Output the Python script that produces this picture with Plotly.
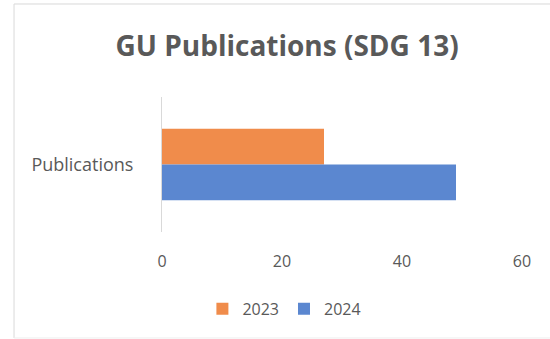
import plotly.graph_objects as go

categories = ["Publications"]
series_names = ["2023", "2024"]
values_2023 = [27]
values_2024 = [49]
x_ticks = [0, 20, 40, 60]

colors = {"2023": "#F08C4B", "2024": "#5B87D0"}

fig = go.Figure()
for name, vals in zip(series_names, [values_2023, values_2024]):
    fig.add_trace(go.Bar(
        y=categories, x=vals, name=name, orientation="h",
        marker=dict(color=colors[name], line=dict(width=0)),
    ))

border = dict(color="#D9D9D9", width=1)
fig.update_layout(
    width=550, height=339,
    margin=dict(l=162, r=28, t=97, b=107, autoexpand=False),
    paper_bgcolor="white", plot_bgcolor="white",
    barmode="group", bargap=0.47, bargroupgap=0,
    font=dict(family="Open Sans", color="#595959", size=16),
    title=dict(text="<b>GU Publications (SDG 13)</b>", x=0.522, xanchor="center",
               y=0.864, yanchor="middle", font=dict(size=28, color="#595959")),
    showlegend=True,
    legend=dict(orientation="h", x=0.34, xanchor="center", y=-0.57, yanchor="middle",
                font=dict(size=16), traceorder="normal", itemwidth=30),
    xaxis=dict(range=[0, 60], tickvals=x_ticks, showgrid=False, zeroline=False,
               showline=False, ticks="", ticklabelstandoff=18, automargin=False),
    yaxis=dict(autorange="reversed", showline=True, linecolor="#D9D9D9", linewidth=1,
               ticks="", ticklabelstandoff=24, automargin=False,
               tickfont=dict(size=18)),
    shapes=[
        dict(type="line", xref="paper", yref="paper", x0=-0.411, x1=1.1,
             y0=1.689, y1=1.689, line=border, layer="below"),
        dict(type="line", xref="paper", yref="paper", x0=-0.411, x1=-0.411,
             y0=-0.785, y1=1.689, line=border, layer="below"),
        dict(type="line", xref="paper", yref="paper", x0=-0.411, x1=1.1,
             y0=-0.785, y1=-0.785, line=dict(color="#EFEFEF", width=1), layer="below"),
    ],
)

fig.write_html("out.html", config={"displayModeBar": False},
               post_script="document.body.style.margin='0';document.body.style.overflow='hidden';")
